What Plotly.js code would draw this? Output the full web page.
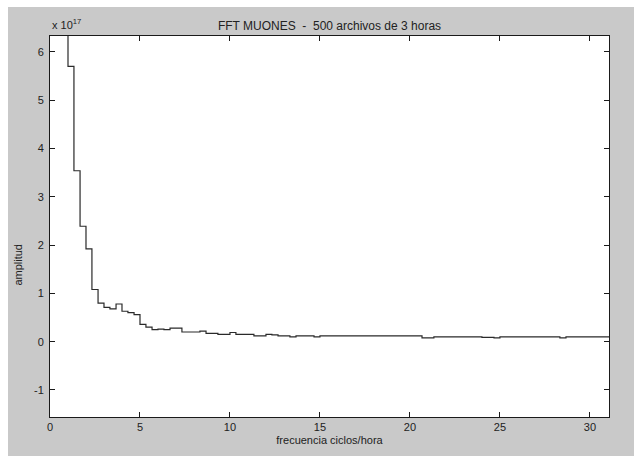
<!DOCTYPE html>
<html>
<head>
<meta charset="utf-8">
<script src="https://cdn.plot.ly/plotly-3.0.1.min.js"></script>
<style>
html,body{margin:0;padding:0;background:#ffffff;width:634px;height:456px;overflow:hidden;}
#chart{position:absolute;left:8px;top:7px;width:626px;height:449px;}
</style>
</head>
<body>
<div id="chart"></div>
<script>
// frequency bins (ciclos/hora)
const frecuencia = [0.67,1.00,1.33,1.67,2.00,2.33,2.67,3.00,3.33,3.67,4.00,4.33,4.67,5.00,5.33,5.67,6.00,6.33,6.67,7.00,7.33,7.67,8.00,8.33,8.67,9.00,9.33,9.67,10.00,10.33,10.67,11.00,11.33,11.67,12.00,12.33,12.67,13.00,13.33,13.67,14.00,14.33,14.67,15.00,15.33,15.67,16.00,16.33,16.67,17.00,17.33,17.67,18.00,18.33,18.67,19.00,19.33,19.67,20.00,20.33,20.67,21.00,21.33,21.67,22.00,22.33,22.67,23.00,23.33,23.67,24.00,24.33,24.67,25.00,25.33,25.67,26.00,26.33,26.67,27.00,27.33,27.67,28.00,28.33,28.67,29.00,29.33,29.67,30.00,30.33,30.67,31.00,31.33];
// amplitude in units of 1e17
const amplitud = [
9.0,5.70,3.54,2.39,1.92,1.08,0.80,0.71,0.68,0.78,
0.63,0.60,0.56,0.36,0.30,0.25,0.26,0.25,0.28,0.28,
0.20,0.20,0.20,0.22,0.17,0.17,0.15,0.15,0.19,0.15,
0.15,0.15,0.12,0.12,0.15,0.14,0.12,0.12,0.10,0.12,
0.12,0.12,0.10,0.12,0.12,0.12,0.12,0.12,0.12,0.12,
0.12,0.12,0.12,0.12,0.12,0.12,0.12,0.12,0.12,0.12,
0.08,0.08,0.10,0.10,0.10,0.10,0.10,0.10,0.10,0.10,
0.09,0.09,0.08,0.10,0.10,0.10,0.10,0.10,0.10,0.10,
0.10,0.10,0.10,0.08,0.10,0.10,0.10,0.10,0.10,0.10,
0.10,0.10,0.10];
const xTicks = [0,5,10,15,20,25,30];
const yTicks = [-1,0,1,2,3,4,5,6];

const FONT = 'Liberation Sans, Arial, Helvetica, sans-serif';
const axCommon = {
  showgrid:false, zeroline:false, showline:true, mirror:'allticks',
  linecolor:'#1a1a1a', linewidth:1, ticks:'inside', ticklen:5, tickwidth:1,
  tickcolor:'#1a1a1a', tickfont:{family:FONT,size:11,color:'#222'}
};
const layout = {
  width:626, height:449,
  margin:{l:42,r:25,t:29,b:39},
  paper_bgcolor:'#c9c9c9', plot_bgcolor:'#ffffff',
  showlegend:false,
  title:{text:'FFT MUONES  -  500 archivos de 3 horas', font:{family:FONT,size:12,color:'#222'},
         x:0.5, xref:'paper', y:1, yref:'paper', yanchor:'bottom', pad:{b:6}},
  xaxis:Object.assign({}, axCommon, {range:[0,31.06], tickvals:xTicks, ticktext:xTicks.map(String),
        title:{text:'frecuencia ciclos/hora', font:{family:FONT,size:11,color:'#222'}, standoff:4}}),
  yaxis:Object.assign({}, axCommon, {range:[-1.56,6.33], tickvals:yTicks, ticktext:yTicks.map(String),
        ticklabelstandoff:3}),
  annotations:[
    {xref:'paper', yref:'paper', x:0, y:1, xanchor:'left', yanchor:'bottom', yshift:3,
     text:'x 10<sup>17</sup>', showarrow:false, font:{family:FONT,size:11,color:'#222'}},
    {xref:'paper', yref:'paper', x:0, y:0.40, xanchor:'center', yanchor:'middle', xshift:-32,
     textangle:-90, text:'amplitud', showarrow:false, font:{family:FONT,size:11,color:'#222'}}
  ]
};
const trace = {x:frecuencia, y:amplitud, type:'scatter', mode:'lines',
  line:{shape:'hv', color:'#2a2a2a', width:1.2}, hoverinfo:'skip'};
Plotly.newPlot('chart',[trace],layout,{displayModeBar:false, staticPlot:true});
</script>
</body>
</html>
